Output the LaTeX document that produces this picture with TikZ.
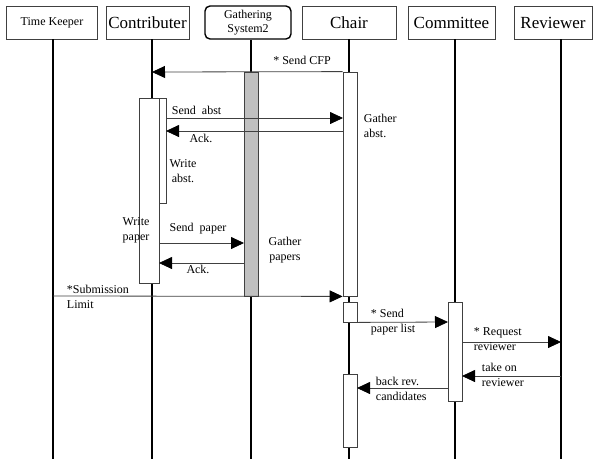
\documentclass[tikz,border=0pt]{standalone}
\usepackage{fontspec}
\setmainfont{Liberation Serif}
\usetikzlibrary{arrows.meta}

\tikzset{
  head/.style={draw={rgb, 255:red, 64; green, 64; blue, 64}, line width=0.8pt, fill=white, inner sep=0pt, minimum height=33pt, font=\fontsize{17}{19}\selectfont},
  life/.style={line width=1.8pt},
  actbar/.style={draw={rgb, 255:red, 64; green, 64; blue, 64}, line width=0.8pt, fill=white, inner sep=0pt},
  msg/.style={draw={rgb, 255:red, 64; green, 64; blue, 64}, line width=0.8pt, -{Triangle[length=13pt,width=12pt,black]}},
  lbl/.style={inner sep=0.75pt, font=\fontsize{12}{15}\selectfont}
}

\begin{document}
\begin{tikzpicture}[x=1pt,y=1pt,yscale=-1,xscale=1]
\useasboundingbox (0,0) rectangle (595,459);

%Shape: Heads
\node [head, font=\fontsize{12}{14}\selectfont, minimum width=91pt] (keeper) at (52,22.5) {Time Keeper};
\node [head, minimum width=83pt] (contrib) at (147.5,22.5) {Contributer};
\node [head, draw=black, line width=1.4pt, rounded corners=5pt, align=center, font=\fontsize{12}{14}\selectfont, minimum width=86pt] (gather) at (248,22.5) {Gathering\\System2};
\node [head, minimum width=94pt] (chair) at (349,22.5) {Chair};
\node [head, minimum width=87pt] (committee) at (451.5,22.5) {Committee};
\node [head, minimum width=78pt] (reviewer) at (553,22.5) {Reviewer};

%Lifelines
\coordinate (keeperEnd) at (53,459);
\coordinate (contribEnd) at (152,459);
\coordinate (gatherEnd) at (251,459);
\coordinate (chairEnd) at (349,459);
\coordinate (committeeEnd) at (455,459);
\coordinate (reviewerEnd) at (561,459);
\draw [life] (keeper.south -| keeperEnd) -- (keeperEnd);
\draw [life] (contrib.south -| contribEnd) -- (contribEnd);
\draw [life] (gather.south -| gatherEnd) -- (gatherEnd);
\draw [life] (chair.south -| chairEnd) -- (chairEnd);
\draw [life] (committee.south -| committeeEnd) -- (committeeEnd);
\draw [life] (reviewer.south -| reviewerEnd) -- (reviewerEnd);

%Shape: Activation bars
\node [actbar, fill={rgb, 255:red, 192; green, 192; blue, 192}, minimum width=14pt, minimum height=224pt] (gatherBar) at (251,184) {};
\node [actbar, minimum width=14pt, minimum height=224pt] (chairBarA) at (350,184) {};
\node [actbar, minimum width=14pt, minimum height=20pt] (chairBarB) at (350,312) {};
\node [actbar, minimum width=14pt, minimum height=73pt] (chairBarC) at (350,410.5) {};
\node [actbar, minimum width=14pt, minimum height=99pt] (committeeBar) at (455,351.5) {};
\node [actbar, minimum width=20pt, minimum height=185pt] (contribBar) at (149,190.5) {};
\node [actbar, minimum width=7pt, minimum height=105pt] (contribSub) at (162.5,150.5) {};

%Messages
\coordinate (cfpEnd) at (152,72);
\coordinate (abstS) at (166,118);
\coordinate (abstE) at (343,118);
\coordinate (ackAS) at (343,131);
\coordinate (ackAE) at (166,131);
\coordinate (paperS) at (159,243);
\coordinate (paperE) at (244,243);
\coordinate (ackBS) at (244,263);
\coordinate (ackBE) at (159,263);
\coordinate (limitS) at (53,296);
\coordinate (listE) at (448,322);
\coordinate (requestS) at (462,342);
\coordinate (requestE) at (561,342);
\coordinate (takeS) at (561,376);
\coordinate (takeE) at (462,376);
\coordinate (backS) at (448,388);
\coordinate (backE) at (357,388);
\draw [msg] (chairBarA.north west) -- (cfpEnd);
\draw [msg] (abstS) -- (abstE);
\draw [msg] (ackAS) -- (ackAE);
\draw [msg] (paperS) -- (paperE);
\draw [msg] (ackBS) -- (ackBE);
\draw [msg] (limitS) -- (chairBarA.south west);
\draw [msg] (chairBarB.south east) -- (listE);
\draw [msg] (requestS) -- (requestE);
\draw [msg] (takeS) -- (takeE);
\draw [msg] (backS) -- (backE);

% Text Node
\node [lbl] (cfpLbl) at (302,60) {* Send CFP};
% Text Node
\node [lbl, anchor=west] (abstLbl) at (171,110) {Send\ \ abst};
% Text Node
\node [lbl] (ackALbl) at (201,138) {Ack.};
% Text Node
\node [lbl, anchor=west, align=left] (gatherALbl) at (363,125.5) {Gather\\abst.};
% Text Node
\node [lbl, align=center] (writeALbl) at (183,171.5) {Write\\abst.};
% Text Node
\node [lbl, align=center] (writeBLbl) at (136,230.5) {Write\\paper};
% Text Node
\node [lbl] (paperLbl) at (198,229) {Send\ \ paper};
% Text Node
\node [lbl] (ackBLbl) at (198,269) {Ack.};
% Text Node
\node [lbl, align=center] (gatherBLbl) at (285,250.5) {Gather\\papers};
% Text Node
\node [lbl, anchor=west, align=left] (limitLbl) at (66,296.5) {*Submission\\Limit};
% Text Node
\node [lbl, anchor=west, align=left] (listLbl) at (370,322.5) {* Send\\paper list};
% Text Node
\node [lbl, anchor=west, align=left] (requestLbl) at (473,339.5) {* Request\\reviewer};
% Text Node
\node [lbl, anchor=west, align=left] (takeLbl) at (481,375) {take on\\reviewer};
% Text Node
\node [lbl, anchor=west, align=left] (backLbl) at (375,389) {back rev.\\candidates};

\end{tikzpicture}
\end{document}
